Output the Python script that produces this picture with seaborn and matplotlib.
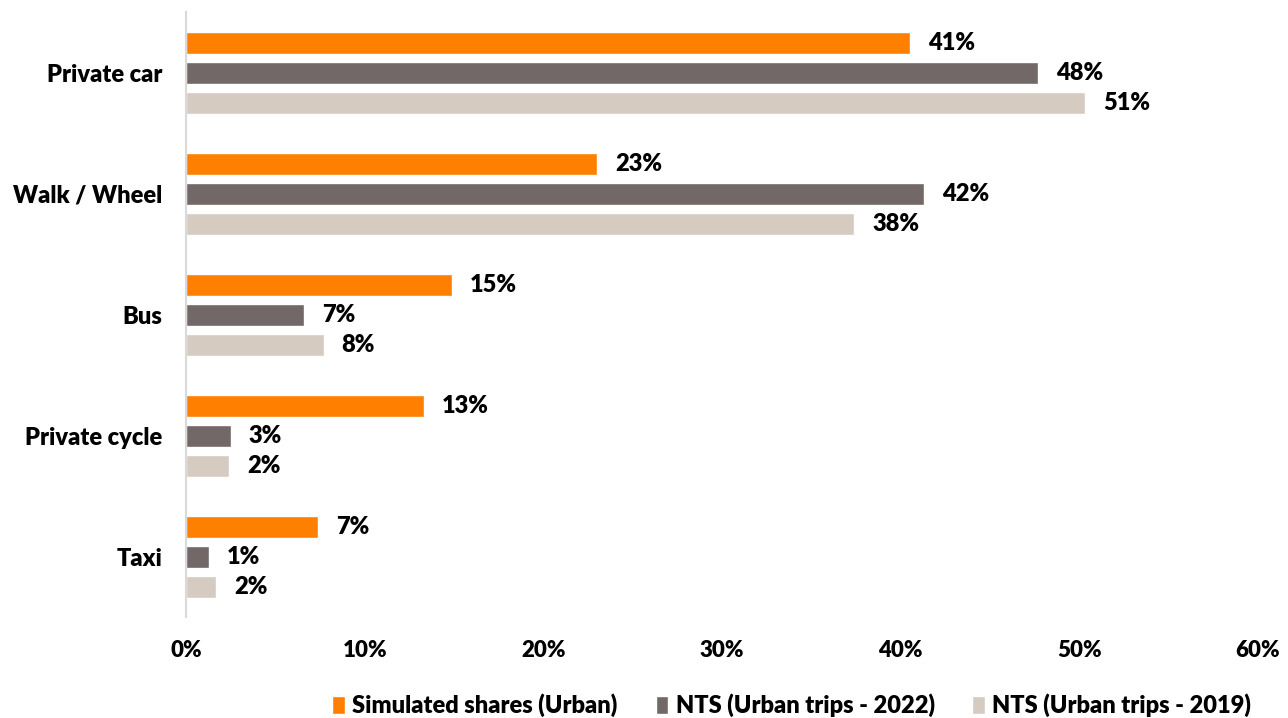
import pandas as pd
import seaborn as sns
import matplotlib.pyplot as plt
from matplotlib.ticker import PercentFormatter

modes = ["Private car", "Walk / Wheel", "Bus", "Private cycle", "Taxi"]
series = ["Simulated shares (Urban)", "NTS (Urban trips - 2022)", "NTS (Urban trips - 2019)"]
simulated = [40.5, 23.0, 14.9, 13.3, 7.4]
nts_2022 = [47.7, 41.3, 6.6, 2.5, 1.3]
nts_2019 = [50.3, 37.4, 7.7, 2.4, 1.7]
labels_sim = ["41%", "23%", "15%", "13%", "7%"]
labels_2022 = ["48%", "42%", "7%", "3%", "1%"]
labels_2019 = ["51%", "38%", "8%", "2%", "2%"]
colors = ["#FF7F00", "#716867", "#D5CBC1"]

rows = []
for s, vals in zip(series, [simulated, nts_2022, nts_2019]):
    for m, v in zip(modes, vals):
        rows.append({"mode": m, "series": s, "share": v})
df = pd.DataFrame(rows)

sns.set_style("white")
plt.rcParams["font.family"] = ["Lato", "DejaVu Sans"]
plt.rcParams["text.color"] = "black"
plt.rcParams["xtick.color"] = "black"
plt.rcParams["ytick.color"] = "black"
W = "heavy"

fig = plt.figure(figsize=(12.88, 7.18), dpi=100)
ax = fig.add_axes([0.1444, 0.14, 0.8323, 0.8426])
sns.barplot(data=df, y="mode", x="share", hue="series", order=modes,
            hue_order=series, palette=colors, orient="h", width=0.75,
            gap=0.27, saturation=1, ax=ax)

for cont, labs in zip(ax.containers, [labels_sim, labels_2022, labels_2019]):
    ax.bar_label(cont, labels=labs, padding=13, fontsize=17, fontweight=W,
                 color="black")

ax.set_xlim(0, 60)
ax.set_xticks(range(0, 61, 10))
ax.xaxis.set_major_formatter(PercentFormatter(decimals=0))
ax.set_xlabel("")
ax.set_ylabel("")
for sp in ["top", "right", "bottom"]:
    ax.spines[sp].set_visible(False)
ax.spines["left"].set_color("#D9D9D9")
ax.spines["left"].set_linewidth(1.5)
ax.tick_params(axis="y", length=0, labelsize=17, pad=17)
ax.tick_params(axis="x", length=0, labelsize=16, pad=16)
for t in ax.get_xticklabels() + ax.get_yticklabels():
    t.set_fontweight(W)

handles, lbls = ax.get_legend_handles_labels()
ax.get_legend().remove()
fig.legend(handles, lbls, loc="lower right", bbox_to_anchor=(0.988, -0.028),
           ncol=3, frameon=False, prop={"size": 17, "weight": W},
           handlelength=0.55, handleheight=0.8, handletextpad=0.3,
           columnspacing=1.6)

fig.savefig("out.png", dpi=100)
